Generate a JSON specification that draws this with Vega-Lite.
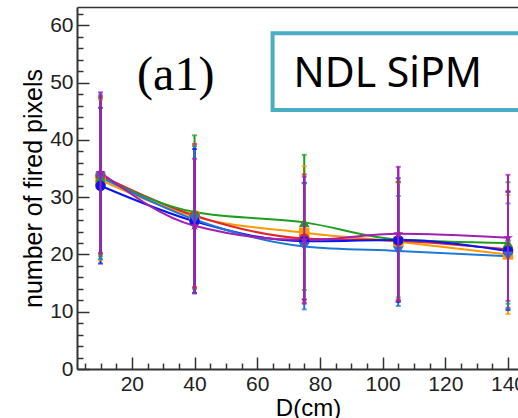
{
  "$schema": "https://vega.github.io/schema/vega-lite/v6.json",
  "width": 441,
  "height": 362,
  "autosize": {"type": "none"},
  "padding": {"left": 77, "top": 7, "right": 0, "bottom": 49},
  "background": "white",
  "config": {
    "view": {"stroke": null},
    "axis": {"grid": false, "labelFont": "Liberation Sans", "titleFont": "Liberation Sans", "labelColor": "#222", "titleColor": "#000", "labelOverlap": false, "labelFlush": false}
  },
  "datasets": {
    "pts": [
      {"s": "s1", "d": 10, "v": 33.0, "lo": 19.0, "hi": 47.0},
      {"s": "s1", "d": 40, "v": 26.6, "lo": 14.2, "hi": 39.0},
      {"s": "s1", "d": 75, "v": 23.8, "lo": 12.2, "hi": 35.4},
      {"s": "s1", "d": 105, "v": 22.2, "lo": 11.9, "hi": 32.5},
      {"s": "s1", "d": 140, "v": 20.0, "lo": 9.6, "hi": 30.4},
      {"s": "s2", "d": 10, "v": 33.8, "lo": 20.1, "hi": 47.5},
      {"s": "s2", "d": 40, "v": 26.8, "lo": 14.3, "hi": 39.3},
      {"s": "s2", "d": 75, "v": 22.8, "lo": 11.6, "hi": 34.0},
      {"s": "s2", "d": 105, "v": 22.4, "lo": 12.1, "hi": 32.7},
      {"s": "s2", "d": 140, "v": 20.9, "lo": 10.7, "hi": 31.1},
      {"s": "s3", "d": 10, "v": 33.5, "lo": 19.7, "hi": 47.3},
      {"s": "s3", "d": 40, "v": 27.4, "lo": 14.0, "hi": 40.8},
      {"s": "s3", "d": 75, "v": 25.6, "lo": 13.8, "hi": 37.4},
      {"s": "s3", "d": 105, "v": 22.6, "lo": 12.5, "hi": 32.7},
      {"s": "s3", "d": 140, "v": 22.0, "lo": 11.4, "hi": 32.6},
      {"s": "s4", "d": 10, "v": 32.0, "lo": 18.4, "hi": 45.6},
      {"s": "s4", "d": 40, "v": 25.8, "lo": 13.2, "hi": 38.4},
      {"s": "s4", "d": 75, "v": 22.3, "lo": 12.1, "hi": 32.5},
      {"s": "s4", "d": 105, "v": 22.5, "lo": 11.7, "hi": 33.3},
      {"s": "s4", "d": 140, "v": 20.6, "lo": 10.3, "hi": 30.9},
      {"s": "s5", "d": 10, "v": 33.5, "lo": 19.2, "hi": 47.8},
      {"s": "s5", "d": 40, "v": 26.1, "lo": 13.3, "hi": 38.9},
      {"s": "s5", "d": 75, "v": 21.4, "lo": 10.4, "hi": 32.4},
      {"s": "s5", "d": 105, "v": 20.6, "lo": 11.0, "hi": 30.2},
      {"s": "s5", "d": 140, "v": 19.7, "lo": 10.5, "hi": 28.9},
      {"s": "s6", "d": 10, "v": 34.3, "lo": 20.3, "hi": 48.3},
      {"s": "s6", "d": 40, "v": 25.0, "lo": 13.3, "hi": 36.7},
      {"s": "s6", "d": 75, "v": 22.5, "lo": 11.4, "hi": 33.6},
      {"s": "s6", "d": 105, "v": 23.6, "lo": 11.9, "hi": 35.3},
      {"s": "s6", "d": 140, "v": 22.9, "lo": 11.9, "hi": 33.9}
    ],
    "box": [{"x": 64.9, "x2": 170, "y": 58.6, "y2": 45.2}],
    "notes": [
      {"t": "(a1)", "x": 34, "y": 48.7, "kind": "serif"},
      {"t": "NDL SiPM", "x": 71.6, "y": 49.2, "kind": "sans"}
    ]
  },
  "resolve": {"axis": {"x": "independent", "y": "independent"}},
  "layer": [
    {
      "data": {"name": "pts"},
      "mark": {"type": "rule", "strokeWidth": 2},
      "encoding": {
        "x": {"field": "d", "type": "quantitative",
          "scale": {"domain": [2.5, 143.2], "nice": false, "zero": false},
          "axis": {
            "orient": "bottom",
            "values": [5,10,15,20,25,30,35,40,45,50,55,60,65,70,75,80,85,90,95,100,105,110,115,120,125,130,135,140],
            "labelExpr": "datum.value % 20 === 0 ? datum.label : ''",
            "tickSize": {"condition": {"test": "datum.value % 20 === 0", "value": -12}, "value": -6},
            "tickColor": "#333", "tickWidth": 1.5,
            "domainColor": "#333", "domainWidth": 2,
            "labelFontSize": 21, "labelPadding": 16,
            "title": "D(cm)", "titleFontSize": 24, "titleFontWeight": "normal",
            "titleX": 231, "titlePadding": -4
          }},
        "y": {"field": "lo", "type": "quantitative",
          "scale": {"domain": [0, 63.2], "nice": false, "zero": false},
          "axis": {
            "orient": "left",
            "values": [0,2,4,6,8,10,12,14,16,18,20,22,24,26,28,30,32,34,36,38,40,42,44,46,48,50,52,54,56,58,60,62],
            "labelExpr": "datum.value % 10 === 0 ? datum.label : ''",
            "tickSize": {"condition": {"test": "datum.value % 10 === 0", "value": -12}, "value": -6},
            "tickColor": "#333", "tickWidth": 1.5,
            "domainColor": "#333", "domainWidth": 2,
            "labelFontSize": 21, "labelPadding": 16,
            "title": "number of fired pixels", "titleFontSize": 25, "titleFontWeight": "normal",
            "titlePadding": 3
          }},
        "y2": {"field": "hi"},
        "color": {"field": "s", "type": "nominal", "legend": null,
          "scale": {"domain": ["s1","s2","s3","s4","s5","s6"], "range": ["#FF9900","#E3262B","#1E9E1E","#0A14F0","#1F78D4","#A020B0"]}}
      }
    },
    {
      "data": {"name": "pts"},
      "mark": {"type": "tick", "orient": "horizontal", "size": 5, "thickness": 2},
      "encoding": {
        "x": {"field": "d", "type": "quantitative", "axis": null},
        "y": {"field": "lo", "type": "quantitative", "axis": null},
        "color": {"field": "s", "type": "nominal", "legend": null}
      }
    },
    {
      "data": {"name": "pts"},
      "mark": {"type": "tick", "orient": "horizontal", "size": 5, "thickness": 2},
      "encoding": {
        "x": {"field": "d", "type": "quantitative", "axis": null},
        "y": {"field": "hi", "type": "quantitative", "axis": null},
        "color": {"field": "s", "type": "nominal", "legend": null}
      }
    },
    {
      "data": {"name": "pts"},
      "mark": {"type": "line", "strokeWidth": 2, "interpolate": "monotone"},
      "encoding": {
        "x": {"field": "d", "type": "quantitative", "axis": null},
        "y": {"field": "v", "type": "quantitative", "axis": null},
        "color": {"field": "s", "type": "nominal", "legend": null},
        "order": {"field": "d", "type": "quantitative"}
      }
    },
    {
      "data": {"name": "pts"},
      "mark": {"type": "point", "filled": true, "opacity": 1, "size": 110},
      "encoding": {
        "x": {"field": "d", "type": "quantitative", "axis": null},
        "y": {"field": "v", "type": "quantitative", "axis": null},
        "color": {"field": "s", "type": "nominal", "legend": null},
        "shape": {"field": "s", "type": "nominal", "legend": null,
          "scale": {"domain": ["s1","s2","s3","s4","s5","s6"],
            "range": ["square", "circle", "triangle-up", "circle", "triangle-down", "M0,-1L0.2245,-0.309L0.951,-0.309L0.363,0.118L0.588,0.809L0,0.382L-0.588,0.809L-0.363,0.118L-0.951,-0.309L-0.2245,-0.309Z"]}}
      }
    },
    {
      "data": {"name": "pts"},
      "transform": [{"filter": "datum.s === 's6'"}],
      "mark": {"type": "rule", "strokeWidth": 2, "color": "#A020B0"},
      "encoding": {
        "x": {"field": "d", "type": "quantitative", "axis": null},
        "y": {"field": "lo", "type": "quantitative", "axis": null},
        "y2": {"field": "hi"}
      }
    },
    {
      "data": {"name": "box"},
      "mark": {"type": "rect", "fill": "white", "stroke": "#4BACC6", "strokeWidth": 4},
      "encoding": {
        "x": {"field": "x", "type": "quantitative",
          "axis": {"orient": "top", "labels": false, "ticks": false, "domain": true, "domainColor": "#333", "domainWidth": 1.5, "title": null}},
        "x2": {"field": "x2"},
        "y": {"field": "y", "type": "quantitative", "axis": null},
        "y2": {"field": "y2"}
      }
    },
    {
      "data": {"name": "notes"},
      "transform": [{"filter": "datum.kind === 'serif'"}],
      "mark": {"type": "text", "font": "Liberation Serif", "fontSize": 48, "align": "center", "baseline": "alphabetic", "color": "#000"},
      "encoding": {
        "x": {"field": "x", "type": "quantitative", "axis": null},
        "y": {"field": "y", "type": "quantitative", "axis": null},
        "text": {"field": "t"}
      }
    },
    {
      "data": {"name": "notes"},
      "transform": [{"filter": "datum.kind === 'sans'"}],
      "mark": {"type": "text", "font": "Noto Sans", "fontSize": 41, "align": "left", "baseline": "alphabetic", "color": "#000"},
      "encoding": {
        "x": {"field": "x", "type": "quantitative", "axis": null},
        "y": {"field": "y", "type": "quantitative", "axis": null},
        "text": {"field": "t"}
      }
    }
  ]
}
